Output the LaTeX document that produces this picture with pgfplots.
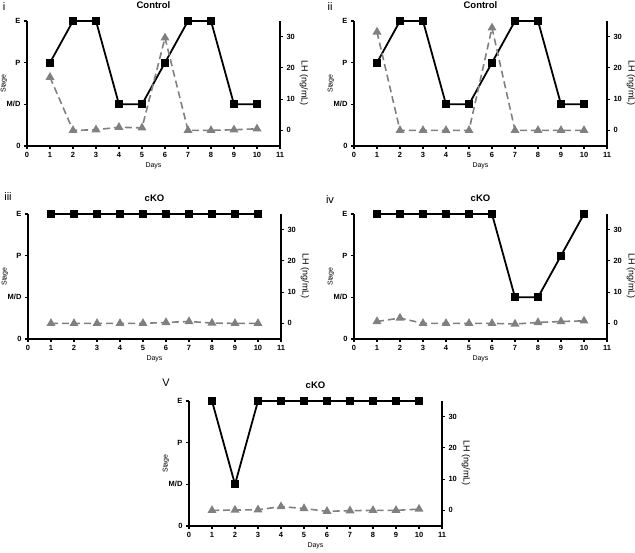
\documentclass[border=0pt]{standalone}
\usepackage{fontspec}
\setmainfont{Liberation Sans}
\usepackage{pgfplots}
\pgfplotsset{compat=1.18}
\definecolor{lhgray}{RGB}{128,128,128}
\pgfplotsset{
 every non boxed x axis/.append style={x axis line style={-}, xtick align=outside},
 every non boxed y axis/.append style={y axis line style={-}, ytick align=outside},
 base/.style={scale only axis, width=253pt, height=125pt, xmin=0, xmax=11, clip=false,
   /pgf/number format/assume math mode=true,
   axis line style={line width=1.5pt},
   tick align=outside, major tick length=3pt,
   tick style={line width=1.2pt, black},
   tick label style={font=\fontsize{7.5}{8}\selectfont\bfseries},
   every axis title shift=0pt,
 },
 leftax/.style={base, ymin=0, ymax=3, axis x line=bottom, axis y line=left,
   xtick={0,...,11}, ytick={0,1,2,3}, yticklabels={0,M/D,P,E},
   xlabel=Days, ylabel=Stage,
   every axis x label/.style={font=\fontsize{7}{8}\selectfont, at={(axis description cs:0.5,0)}, yshift=-20pt, anchor=center},
   every axis y label/.style={font=\fontsize{7}{8}\selectfont, at={(axis description cs:0,0.5)}, xshift=-23pt, rotate=90, anchor=center},
   every axis title/.style={font=\fontsize{9.5}{10}\selectfont\bfseries, at={(axis description cs:0.5,1)}, yshift=16pt, anchor=center},
 },
 rightax/.style={base, ymin=-5, ymax=35, axis y line=right, hide x axis, ytick={0,10,20,30},
   ylabel={LH (ng/mL)},
   every axis y label/.style={font=\fontsize{9}{10}\selectfont, at={(axis description cs:1,0.5)}, xshift=24pt, rotate=-90, anchor=center},
 },
 stage/.style={black, line width=1.8pt, mark=square*, mark size=3.2pt, mark options={solid}},
 lh/.style={lhgray, line width=1.6pt, dash pattern=on 7pt off 4pt, mark=triangle*, mark size=3.6pt, mark options={solid}},
}
\begin{document}
\begin{tikzpicture}
\path[use as bounding box] (0pt,0pt) rectangle (635pt,-553pt);
% Panel i
\begin{axis}[leftax, at={(27pt,-146pt)}, anchor=south west, title={Control}]
\addplot[stage] coordinates {(1,2) (2,3) (3,3) (4,1) (5,1) (6,2) (7,3) (8,3) (9,1) (10,1)};
\end{axis}
\begin{axis}[rightax, at={(27pt,-146pt)}, anchor=south west]
\addplot[lh] coordinates {(1,17.0) (2,0) (3,0.2) (4,1.0) (5,0.8) (6,29.6) (7,0) (8,0) (9,0.2) (10,0.5)};
\end{axis}
% Panel ii
\begin{axis}[leftax, at={(354pt,-146pt)}, anchor=south west, title={Control}]
\addplot[stage] coordinates {(1,2) (2,3) (3,3) (4,1) (5,1) (6,2) (7,3) (8,3) (9,1) (10,1)};
\end{axis}
\begin{axis}[rightax, at={(354pt,-146pt)}, anchor=south west]
\addplot[lh] coordinates {(1,31.5) (2,0) (3,0) (4,0) (5,0) (6,32.8) (7,0) (8,0) (9,0) (10,0)};
\end{axis}
% Panel iii
\begin{axis}[leftax, at={(28pt,-339pt)}, anchor=south west, title={cKO}]
\addplot[stage] coordinates {(1,3) (2,3) (3,3) (4,3) (5,3) (6,3) (7,3) (8,3) (9,3) (10,3)};
\end{axis}
\begin{axis}[rightax, at={(28pt,-339pt)}, anchor=south west]
\addplot[lh] coordinates {(1,0) (2,0) (3,0) (4,0) (5,0) (6,0.3) (7,0.6) (8,0.1) (9,0) (10,0)};
\end{axis}
% Panel iv
\begin{axis}[leftax, at={(354pt,-339pt)}, anchor=south west, title={cKO}]
\addplot[stage] coordinates {(1,3) (2,3) (3,3) (4,3) (5,3) (6,3) (7,1) (8,1) (9,2) (10,3)};
\end{axis}
\begin{axis}[rightax, at={(354pt,-339pt)}, anchor=south west]
\addplot[lh] coordinates {(1,0.6) (2,1.7) (3,0) (4,0) (5,0) (6,0) (7,-0.2) (8,0.3) (9,0.6) (10,0.8)};
\end{axis}
% Panel v
\begin{axis}[leftax, at={(189pt,-526pt)}, anchor=south west, title={cKO}]
\addplot[stage] coordinates {(1,3) (2,1) (3,3) (4,3) (5,3) (6,3) (7,3) (8,3) (9,3) (10,3)};
\end{axis}
\begin{axis}[rightax, at={(189pt,-526pt)}, anchor=south west]
\addplot[lh] coordinates {(1,0) (2,0.1) (3,0.2) (4,1.2) (5,0.6) (6,-0.3) (7,-0.1) (8,0) (9,0) (10,0.4)};
\end{axis}
% panel letters
\node[font=\fontsize{11}{12}\selectfont] at (4pt,-7pt) {i};
\node[font=\fontsize{11}{12}\selectfont] at (330pt,-7pt) {ii};
\node[font=\fontsize{11}{12}\selectfont] at (8pt,-197pt) {iii};
\node[font=\fontsize{11}{12}\selectfont] at (330pt,-200pt) {iv};
\node[font=\fontsize{11}{12}\selectfont] at (166pt,-383pt) {V};
\end{tikzpicture}
\end{document}
